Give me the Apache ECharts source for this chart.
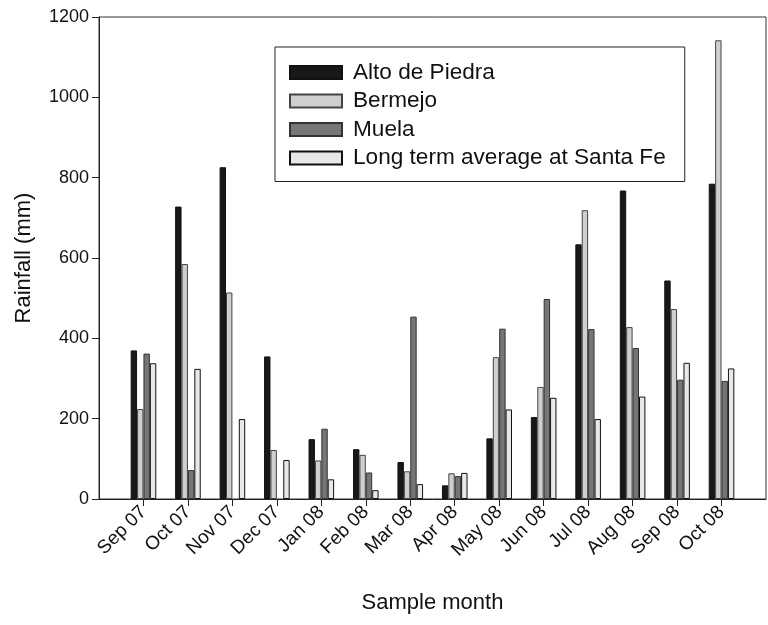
<!DOCTYPE html>
<html>
<head>
<meta charset="utf-8">
<script src="https://cdn.jsdelivr.net/npm/echarts@6/dist/echarts.min.js"></script>
<style>
  html, body { margin: 0; padding: 0; background: #fff; }
  #main { width: 768px; height: 625px; }
</style>
</head>
<body>
<div id="main"></div>
<script>
// monthly rainfall (mm)
const months = ["Sep 07", "Oct 07", "Nov 07", "Dec 07", "Jan 08", "Feb 08", "Mar 08",
  "Apr 08", "May 08", "Jun 08", "Jul 08", "Aug 08", "Sep 08", "Oct 08"];
const altoDePiedra = [370, 728, 826, 355, 149, 124, 92, 34, 151, 204, 634, 768, 544, 785];
const bermejo = [224, 585, 514, 122, 96, 110, 69, 64, 353, 279, 719, 428, 473, 1142];
const muela = [362, 72, null, null, 175, 66, 454, 57, 424, 498, 423, 376, 297, 294];
const longTerm = [338, 324, 199, 97, 49, 22, 37, 65, 223, 252, 199, 255, 339, 325];
const yTicks = [0, 200, 400, 600, 800, 1000, 1200];

const font = "Liberation Sans, Arial, Helvetica, sans-serif";
const chart = echarts.init(document.getElementById("main"));
const monthIdx = months.map((m, i) => i);

// x axis is numeric so the groups sit where the original put them
function toPoints(arr) {
  return arr.map((v, i) => [i, v]);
}

function barSeries(name, arr, fill, border) {
  return {
    name: name,
    type: "bar",
    data: toPoints(arr),
    barWidth: 6.4,
    barGap: "0%",
    itemStyle: { color: fill, borderColor: border, borderWidth: 1 },
    emphasis: { disabled: true },
  };
}

const option = {
  animation: false,
  textStyle: { fontFamily: font },
  grid: {
    left: 99, right: 2, top: 17, bottom: 126,
    show: true, borderColor: "#333", borderWidth: 1,
  },
  legend: {
    orient: "vertical",
    left: 275, top: 47,
    icon: "rect",
    itemWidth: 52, itemHeight: 13, itemGap: 5.5,
    padding: [14, 19, 12, 14],
    borderColor: "#222", borderWidth: 1,
    textStyle: { fontSize: 22.6, color: "#111", fontFamily: font, padding: [0, 0, 0, 6] },
    data: ["Alto de Piedra", "Bermejo", "Muela", "Long term average at Santa Fe"],
  },
  xAxis: {
    type: "value",
    min: -1, max: 14, interval: 1,
    name: "Sample month",
    nameLocation: "middle",
    nameGap: 93,
    nameTextStyle: { fontSize: 22, color: "#111" },
    axisLine: { lineStyle: { color: "#222" } },
    axisTick: { length: 7, lineStyle: { color: "#222" }, customValues: monthIdx },
    axisLabel: {
      customValues: monthIdx,
      rotate: 45,
      fontSize: 19, color: "#111", margin: 10,
      formatter: (v) => months[v] || "",
    },
    splitLine: { show: false },
  },
  yAxis: {
    type: "value",
    min: yTicks[0], max: yTicks[yTicks.length - 1], interval: 200,
    name: "Rainfall (mm)",
    nameLocation: "middle",
    nameGap: 64,
    nameTextStyle: { fontSize: 22, color: "#111" },
    axisLine: { show: true, onZero: false, lineStyle: { color: "#222" } },
    axisTick: { show: true, length: 7, lineStyle: { color: "#222" } },
    axisLabel: { fontSize: 18, color: "#111", margin: 10, formatter: (v) => String(v) },
    splitLine: { show: false },
  },
  series: [
    barSeries("Alto de Piedra", altoDePiedra, "#181818", "#111"),
    barSeries("Bermejo", bermejo, "#cfcfcf", "#444"),
    barSeries("Muela", muela, "#767676", "#333"),
    barSeries("Long term average at Santa Fe", longTerm, "#e8e8e8", "#111"),
  ],
};

chart.setOption(option);
</script>
</body>
</html>
